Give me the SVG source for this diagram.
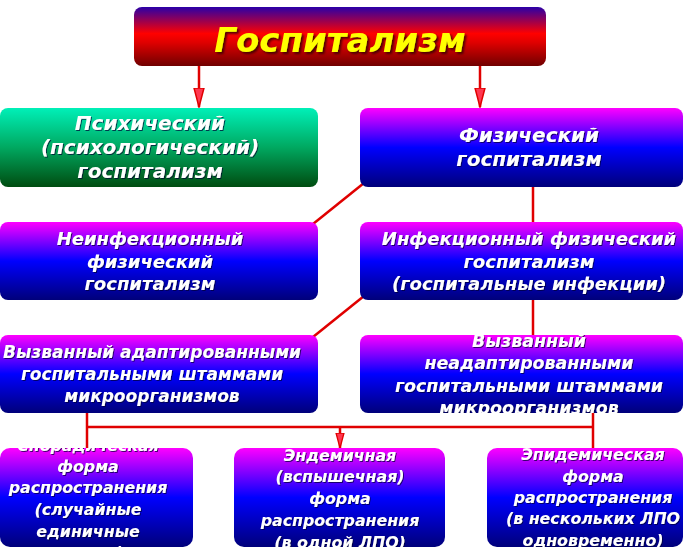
<svg xmlns="http://www.w3.org/2000/svg" width="683" height="555" viewBox="0 0 683 555">
<defs>
<linearGradient id="gTop" x1="0" y1="0" x2="0" y2="1">
<stop offset="0" stop-color="#2a00a8"/>
<stop offset="0.45" stop-color="#ff0000"/>
<stop offset="0.6" stop-color="#e00000"/>
<stop offset="1" stop-color="#700000"/>
</linearGradient>
<linearGradient id="gGreen" x1="0" y1="0" x2="0" y2="1">
<stop offset="0" stop-color="#00f0b8"/>
<stop offset="0.5" stop-color="#00a860"/>
<stop offset="1" stop-color="#004c10"/>
</linearGradient>
<linearGradient id="gBlue" x1="0" y1="0" x2="0" y2="1">
<stop offset="0" stop-color="#ff00ff"/>
<stop offset="0.5" stop-color="#0000ff"/>
<stop offset="1" stop-color="#00007a"/>
</linearGradient>
<filter id="sh" x="-10%" y="-20%" width="120%" height="150%">
<feDropShadow dx="1" dy="1" stdDeviation="0.6" flood-color="#000030" flood-opacity="0.7"/>
</filter>
<filter id="shT" x="-10%" y="-20%" width="120%" height="150%">
<feDropShadow dx="2" dy="2" stdDeviation="0.8" flood-color="#400000" flood-opacity="0.9"/>
</filter>
<marker id="arr" markerUnits="userSpaceOnUse" markerWidth="20" markerHeight="12" viewBox="0 -6 20 12" refX="19" refY="0" orient="auto">
<path d="M0,-5 L19,0 L0,5 Z" fill="#ff3850" stroke="#e00000" stroke-width="1.5"/>
</marker>
<marker id="arrS" markerUnits="userSpaceOnUse" markerWidth="16" markerHeight="10" viewBox="0 -5 16 10" refX="15" refY="0" orient="auto">
<path d="M0,-4 L15,0 L0,4 Z" fill="#ff3850" stroke="#e00000" stroke-width="1.3"/>
</marker>
<clipPath id="cN8"><rect x="360" y="335" width="323" height="78" rx="8"/></clipPath>
<clipPath id="cB1"><rect x="0" y="448" width="193" height="99" rx="10"/></clipPath>
<clipPath id="cB2"><rect x="234" y="448" width="211" height="99" rx="10"/></clipPath>
<clipPath id="cB3"><rect x="487" y="448" width="196" height="99" rx="10"/></clipPath>
</defs>
<style>
.bx{stroke:none}
.t{font-family:"DejaVu Sans","Verdana",sans-serif;font-weight:bold;font-style:italic;fill:#ffffff;text-anchor:middle;filter:url(#sh)}
.L{font-size:20px}
.M{font-size:18px}
.m{font-size:17.4px}
.a{font-size:17px}
.s{font-size:15.8px}
.ttl{font-family:"DejaVu Sans","Verdana",sans-serif;font-weight:bold;font-style:italic;fill:#ffff00;text-anchor:middle;font-size:34px;filter:url(#shT)}
.ln{stroke:#e00000;stroke-width:2.5;fill:none}
</style>
<g id="connectors">
<line class="ln" x1="199" y1="66" x2="199" y2="107" marker-end="url(#arr)"/>
<line class="ln" x1="480" y1="66" x2="480" y2="107" marker-end="url(#arr)"/>
<line class="ln" x1="364" y1="183" x2="313" y2="224"/>
<line class="ln" x1="533" y1="187" x2="533" y2="222"/>
<line class="ln" x1="364" y1="296" x2="313" y2="337"/>
<line class="ln" x1="533" y1="300" x2="533" y2="335"/>
<line class="ln" x1="87" y1="413" x2="87" y2="448"/>
<line class="ln" x1="593" y1="413" x2="593" y2="448"/>
<line class="ln" x1="87" y1="427" x2="593" y2="427"/>
<line class="ln" x1="340" y1="427" x2="340" y2="448" marker-end="url(#arrS)"/>
</g>
<g id="n-gospitalizm">
<rect class="bx" x="134" y="7" width="412" height="59" rx="8" fill="url(#gTop)"/>
<text class="ttl" x="340" y="52">Госпитализм</text>
</g>
<g id="n-psych">
<rect class="bx" x="0" y="108" width="318" height="79" rx="8" fill="url(#gGreen)"/>
<text class="t L" x="150" y="130">Психический</text>
<text class="t L" x="150" y="154">(психологический)</text>
<text class="t L" x="150" y="178">госпитализм</text>
</g>
<g id="n-phys">
<rect class="bx" x="360" y="108" width="323" height="79" rx="8" fill="url(#gBlue)"/>
<text class="t L" x="529" y="142">Физический</text>
<text class="t L" x="529" y="166">госпитализм</text>
</g>
<g id="n-noninf">
<rect class="bx" x="0" y="222" width="318" height="78" rx="8" fill="url(#gBlue)"/>
<text class="t M" x="150" y="245">Неинфекционный</text>
<text class="t M" x="150" y="268">физический</text>
<text class="t M" x="150" y="290">госпитализм</text>
</g>
<g id="n-inf">
<rect class="bx" x="360" y="222" width="323" height="78" rx="8" fill="url(#gBlue)"/>
<text class="t M" x="529" y="245">Инфекционный физический</text>
<text class="t M" x="529" y="268">госпитализм</text>
<text class="t M" x="529" y="290">(госпитальные инфекции)</text>
</g>
<g id="n-adapt">
<rect class="bx" x="0" y="335" width="318" height="78" rx="8" fill="url(#gBlue)"/>
<text class="t a" x="152" y="358">Вызванный адаптированными</text>
<text class="t a" x="152" y="380">госпитальными штаммами</text>
<text class="t a" x="152" y="402">микроорганизмов</text>
</g>
<g id="n-nonadapt">
<rect class="bx" x="360" y="335" width="323" height="78" rx="8" fill="url(#gBlue)"/>
<g clip-path="url(#cN8)">
<text class="t m" x="529" y="347">Вызванный</text>
<text class="t m" x="529" y="369">неадаптированными</text>
<text class="t m" x="529" y="392">госпитальными штаммами</text>
<text class="t m" x="529" y="414">микроорганизмов</text>
</g>
</g>
<g id="n-sporadic">
<rect class="bx" x="0" y="448" width="193" height="99" rx="10" fill="url(#gBlue)"/>
<g clip-path="url(#cB1)">
<text class="t s" x="88" y="451">Спорадическая</text>
<text class="t s" x="88" y="472">форма</text>
<text class="t s" x="88" y="493">распространения</text>
<text class="t s" x="88" y="515">(случайные</text>
<text class="t s" x="88" y="537">единичные</text>
<text class="t s" x="88" y="558">случаи)</text>
</g>
</g>
<g id="n-endemic">
<rect class="bx" x="234" y="448" width="211" height="99" rx="10" fill="url(#gBlue)"/>
<g clip-path="url(#cB2)">
<text class="t s" x="340" y="461">Эндемичная</text>
<text class="t s" x="340" y="482">(вспышечная)</text>
<text class="t s" x="340" y="504">форма</text>
<text class="t s" x="340" y="526">распространения</text>
<text class="t s" x="340" y="548">(в одной ЛПО)</text>
</g>
</g>
<g id="n-epidemic">
<rect class="bx" x="487" y="448" width="196" height="99" rx="10" fill="url(#gBlue)"/>
<g clip-path="url(#cB3)">
<text class="t s" x="593" y="460">Эпидемическая</text>
<text class="t s" x="593" y="482">форма</text>
<text class="t s" x="593" y="503">распространения</text>
<text class="t s" x="593" y="524">(в нескольких ЛПО</text>
<text class="t s" x="593" y="546">одновременно)</text>
</g>
</g>
</svg>
